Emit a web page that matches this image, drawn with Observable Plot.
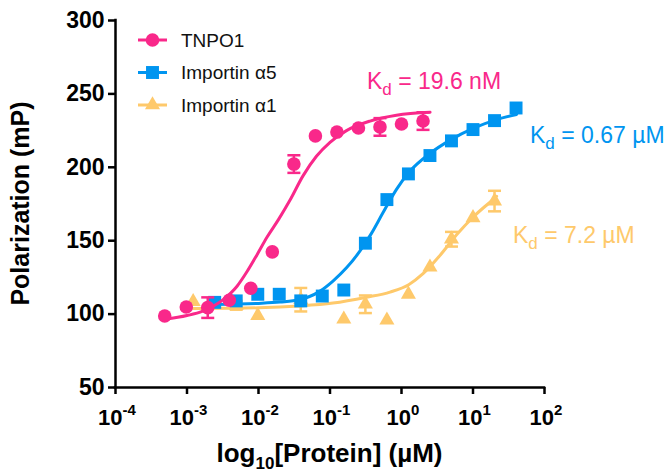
<!DOCTYPE html>
<html>
<head>
<meta charset="utf-8">
<script src="https://cdn.jsdelivr.net/npm/d3@7"></script>
<script src="https://cdn.jsdelivr.net/npm/@observablehq/plot@0.6"></script>
<style>
  html, body { margin: 0; padding: 0; background: #fff; }
  svg { display: block; }
</style>
</head>
<body>
<div id="chart"></div>
<script>
// ---- Data (concentrations in µM, polarization in mP) ----
const seriesNames = ["TNPO1", "Importin α5", "Importin α1"];
const seriesColors = ["#f9288a", "#0095f0", "#fec96b"];
const kdLabels = ["19.6 nM", "0.67 µM", "7.2 µM"];

const concTNPO1 = [0.000488, 0.000977, 0.00195, 0.0039, 0.0078, 0.0156, 0.03125, 0.0625, 0.125, 0.25, 0.5, 1, 2];
const polTNPO1  = [98.7, 104.8, 104.4, 109.4, 117.6, 142.4, 202.2, 221.4, 224, 226.8, 227.5, 229.5, 231.5];
const errTNPO1  = [0, 0, 7, 0, 0, 0, 6, 0, 0, 0, 6, 0, 6];

const concA5 = [0.00244, 0.00488, 0.00977, 0.0195, 0.039, 0.078, 0.156, 0.3125, 0.625, 1.25, 2.5, 5, 10, 20, 40];
const polA5  = [108, 109, 113.5, 113.5, 109, 112.3, 116.4, 148.3, 178, 195.5, 208, 218, 225.7, 231.8, 240.4];

const concA1 = [0.00122, 0.00488, 0.00977, 0.039, 0.156, 0.3125, 0.625, 1.25, 2.5, 5, 10, 20];
const polA1  = [108.5, 106, 99, 109.8, 96.5, 106.7, 95.8, 113.5, 132, 151, 165.6, 177];
const errA1  = [0, 3, 0, 8, 0, 6, 0, 0, 0, 5, 0, 7];

// fitted curves
const fitXTNPO1 = [0.00049, 0.001, 0.00166, 0.00324, 0.00501, 0.00692, 0.00955, 0.0132, 0.0191, 0.0275, 0.0417, 0.0646, 0.1, 0.17, 0.363, 0.851, 2.51];
const fitYTNPO1 = [96.5, 99, 102, 110, 119, 129, 140.5, 152.5, 164.5, 177.5, 194, 207.5, 217, 225, 231.5, 235.5, 237.5];

const fitXA5 = [0.00245, 0.01, 0.02, 0.0372, 0.0708, 0.11, 0.17, 0.263, 0.38, 0.55, 0.851, 1.32, 2.51, 4.79, 10, 21.4, 40.7];
const fitYA5 = [106.5, 107.3, 108.2, 109.8, 115.3, 122.5, 131.5, 143, 155, 169, 185, 197.5, 209.5, 218.5, 226.5, 232.5, 236];

const fitXA1 = [0.00123, 0.01, 0.0372, 0.11, 0.324, 0.692, 1.26, 2.0, 3.39, 5.89, 10, 17, 21.4];
const fitYA1 = [103.8, 104.3, 105.5, 107.5, 111.5, 115, 120, 127.5, 139.5, 154, 166, 176, 180.3];

const xTicks = [1e-4, 1e-3, 1e-2, 1e-1, 1e0, 1e1, 1e2];
const xTickExp = ["-4", "-3", "-2", "-1", "0", "1", "2"];
const yTicks = [50, 100, 150, 200, 250, 300];

// ---- tables ----
const pts = (c, p, e, s) => c.map((x, i) => ({x, y: p[i], e: e ? e[i] : 0, s}));
const dTNPO1 = pts(concTNPO1, polTNPO1, errTNPO1, 0);
const dA5 = pts(concA5, polA5, null, 1);
const dA1 = pts(concA1, polA1, errA1, 2);
const fTNPO1 = fitXTNPO1.map((x, i) => ({x, y: fitYTNPO1[i]}));
const fA5 = fitXA5.map((x, i) => ({x, y: fitYA5[i]}));
const fA1 = fitXA1.map((x, i) => ({x, y: fitYA1[i]}));

const capSymbol = { draw(ctx, size) { const w = Math.sqrt(size / Math.PI); ctx.moveTo(-w, 0); ctx.lineTo(w, 0); } };

function seriesMarks(pointsData, fit, color, symbol, r) {
  const withErr = pointsData.filter(d => d.e > 0);
  return [
    Plot.line(fit, {x: "x", y: "y", stroke: color, strokeWidth: 3, curve: "monotone-x"}),
    Plot.ruleX(withErr, {x: "x", y1: d => d.y - d.e, y2: d => d.y + d.e, stroke: color, strokeWidth: 2.5}),
    Plot.dot(withErr, {x: "x", y: d => d.y + d.e, symbol: capSymbol, r: 6.5, stroke: color, strokeWidth: 2.5, fill: "none"}),
    Plot.dot(withErr, {x: "x", y: d => d.y - d.e, symbol: capSymbol, r: 6.5, stroke: color, strokeWidth: 2.5, fill: "none"}),
    Plot.dot(pointsData, {x: "x", y: "y", symbol, r, fill: color, stroke: "none"})
  ];
}

const plot = Plot.plot({
  width: 665,
  height: 472,
  marginLeft: 115,
  marginRight: 121,
  marginTop: 20,
  marginBottom: 85,
  style: {fontFamily: "'Liberation Sans', Arial, sans-serif", background: "#fff", overflow: "visible"},
  x: {type: "log", domain: [1e-4, 1e2]},
  y: {domain: [50, 300]},
  marks: [
    ...seriesMarks(dA1, fA1, seriesColors[2], "triangle", 5.6),
    ...seriesMarks(dA5, fA5, seriesColors[1], "square", 7.3),
    ...seriesMarks(dTNPO1, fTNPO1, seriesColors[0], "circle", 6.8),
    Plot.axisY({ticks: yTicks, tickSize: 7, strokeWidth: 2.5, stroke: "black", fontSize: 23, fontWeight: "bold", fill: "black", tickPadding: 4, label: null}),
    Plot.axisX({ticks: xTicks, tickSize: 7, strokeWidth: 2.5, stroke: "black", tickFormat: () => "", label: null}),
    Plot.ruleX([1e-4], {y1: () => 50, y2: () => 300, stroke: "black", strokeWidth: 2.5, strokeLinecap: "square"}),
    Plot.ruleY([50], {x1: () => 1e-4, x2: () => 1e2, stroke: "black", strokeWidth: 2.5, strokeLinecap: "square"})
  ]
});

const sx = plot.scale("x"), sy = plot.scale("y");
const svg = d3.select(plot);
const font = "'Liberation Sans', Arial, sans-serif";
const y0 = sy.apply(50);

// x tick labels with superscripts
const tl = svg.append("g").attr("font-family", font).attr("font-weight", "bold").attr("fill", "black");
xTicks.forEach((t, i) => {
  const txt = tl.append("text").attr("x", sx.apply(t) + 2).attr("y", y0 + 38).attr("text-anchor", "middle").attr("font-size", 22);
  txt.append("tspan").text("10");
  txt.append("tspan").attr("dy", -10).attr("font-size", 15).text(xTickExp[i]);
});

// axis titles
const xt = svg.append("text").attr("x", (sx.apply(1e-4) + sx.apply(1e2)) / 2).attr("y", 462)
  .attr("text-anchor", "middle").attr("font-family", font).attr("font-weight", "bold").attr("font-size", 26).attr("fill", "black");
xt.append("tspan").text("log");
xt.append("tspan").attr("dy", 7).attr("font-size", 17).text("10");
xt.append("tspan").attr("dy", -7).text("[Protein] (µM)");

svg.append("text").attr("transform", `translate(29,${(sy.apply(50) + sy.apply(300)) / 2}) rotate(-90)`)
  .attr("text-anchor", "middle").attr("font-family", font).attr("font-weight", "bold").attr("font-size", 25).attr("fill", "black")
  .text("Polarization (mP)");

// Kd annotations (anchored in data coordinates)
const kdPos = [[0.334, 252.7], [63.7, 216.2], [36.8, 148.4]];
kdLabels.forEach((lab, i) => {
  const t = svg.append("text").attr("x", sx.apply(kdPos[i][0])).attr("y", sy.apply(kdPos[i][1]))
    .attr("text-anchor", "start").attr("font-family", font).attr("font-size", 23).attr("fill", seriesColors[i]);
  t.append("tspan").text("K");
  t.append("tspan").attr("dy", 6).attr("font-size", 17).text("d");
  t.append("tspan").attr("dy", -6).text(" = " + lab);
});

// legend
const symbols = [d3.symbolCircle, d3.symbolSquare, d3.symbolTriangle];
const sizes = [Math.PI * 6.8 * 6.8, Math.PI * 7.3 * 7.3, Math.PI * 5.6 * 5.6];
const lg = svg.append("g");
seriesNames.forEach((name, i) => {
  const yy = 40 + i * 32.5;
  lg.append("line").attr("x1", 138).attr("x2", 167).attr("y1", yy).attr("y2", yy).attr("stroke", seriesColors[i]).attr("stroke-width", 3);
  lg.append("path").attr("d", d3.symbol(symbols[i], sizes[i])()).attr("transform", `translate(152.5,${yy})`).attr("fill", seriesColors[i]);
  lg.append("text").attr("x", 181).attr("y", yy + 6.5).attr("text-anchor", "start").attr("font-family", font).attr("font-size", 19).attr("fill", "#111").text(name);
});

document.getElementById("chart").appendChild(plot);
</script>
</body>
</html>
